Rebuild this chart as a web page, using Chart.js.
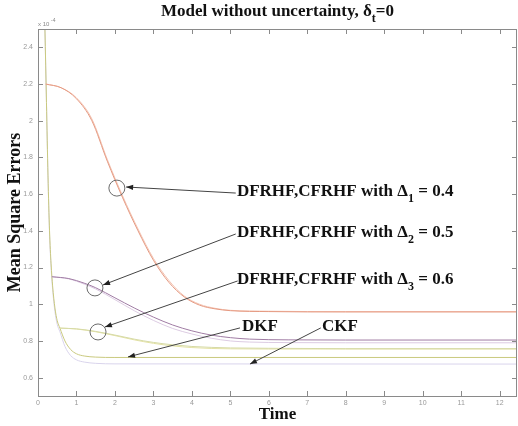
<!DOCTYPE html>
<html><head><meta charset="utf-8">
<script src="https://cdn.jsdelivr.net/npm/chart.js@4/dist/chart.umd.min.js"></script>
<style>html,body{margin:0;padding:0;background:#fff;}</style>
</head><body>
<canvas id="c" width="518" height="426"></canvas>
<script>
// ---- data (MSE values in units of 1e-4) ----
const xTicks = [0,1,2,3,4,5,6,7,8,9,10,11,12];
const yTicks = [0.6,0.8,1.0,1.2,1.4,1.6,1.8,2.0,2.2,2.4];

const tDelta1 = [0.2,0.6,1.0,1.4,1.8,2.2,2.6,3.0,3.4,3.8,4.2,4.6,5.0,6.0,8.0,12.45];
const dfrhfDelta1 = [2.2,2.18,2.12,2.0,1.78,1.58,1.40,1.24,1.12,1.04,0.995,0.975,0.965,0.96,0.958,0.958];
const cfrhfDelta1 = [2.2,2.18,2.125,2.01,1.79,1.59,1.41,1.25,1.13,1.045,1.0,0.978,0.967,0.962,0.96,0.96];

const tDelta2 = [0.36,0.8,1.2,1.5,2.0,2.5,3.0,3.5,4.0,4.5,5.0,5.5,6.5,8.0,12.45];
const dfrhfDelta2 = [1.15,1.14,1.115,1.09,1.035,0.98,0.93,0.887,0.855,0.832,0.818,0.81,0.806,0.805,0.805];
const cfrhfDelta2 = [1.15,1.138,1.11,1.083,1.025,0.965,0.912,0.868,0.838,0.815,0.8,0.794,0.791,0.79,0.79];

const tDelta3 = [0.57,1.0,1.5,2.0,2.5,3.0,3.5,4.0,4.5,5.0,6.0,8.0,12.45];
const dfrhfDelta3 = [0.87,0.866,0.852,0.832,0.81,0.792,0.779,0.77,0.765,0.762,0.76,0.758,0.758];
const cfrhfDelta3 = [0.87,0.865,0.85,0.829,0.806,0.787,0.773,0.764,0.759,0.757,0.756,0.756,0.756];

const tKF = [0.14,0.18,0.22,0.26,0.3,0.34,0.38,0.44,0.5,0.57,0.7,0.85,1.0,1.2,1.5,2.0,12.45];
const dkf = [2.85,2.5,2.1,1.7,1.4,1.22,1.1,0.98,0.91,0.87,0.8,0.753,0.73,0.718,0.712,0.71,0.71];
const ckf = [2.85,2.5,2.1,1.69,1.38,1.2,1.08,0.96,0.89,0.85,0.77,0.72,0.697,0.685,0.678,0.675,0.674];

// annotations (data coordinates)
const circleCenters = [[2.05,1.633],[1.48,1.089],[1.56,0.849]];
const arrowTails = [[5.14,1.606],[5.14,1.383],[5.19,1.127],[5.25,0.871],[7.35,0.871]];
const arrowTips  = [[2.29,1.639],[1.69,1.105],[1.74,0.876],[2.34,0.713],[5.51,0.674]];
const labelAnchors = [[5.17,1.612],[5.17,1.388],[5.17,1.132],[5.30,0.876],[7.38,0.876]];
const labelParts = [
  [["DFRHF,CFRHF with \u0394",0],["1",1],[" = 0.4",0]],
  [["DFRHF,CFRHF with \u0394",0],["2",1],[" = 0.5",0]],
  [["DFRHF,CFRHF with \u0394",0],["3",1],[" = 0.6",0]],
  [["DKF",0]],
  [["CKF",0]]
];
const titleParts = [["Model without uncertainty, \u03b4",0],["t",1],["=0",0]];

function pts(t, v){ return t.map((x,i)=>({x:x, y:v[i]})); }
function ds(label, t, v, color){
  return {label, data: pts(t,v), borderColor: color, borderWidth: 1, pointRadius: 0,
          fill:false, cubicInterpolationMode:'monotone', tension:0.4};
}

const serif = "'Liberation Serif','Times New Roman',serif";

function drawParts(ctx, parts, x, y, size, align){
  const subSize = Math.round(size*0.72);
  let w = 0;
  parts.forEach(p=>{ ctx.font = 'bold ' + (p[1]?subSize:size) + 'px ' + serif; w += ctx.measureText(p[0]).width; });
  let cx = align==='center' ? x - w/2 : x;
  ctx.textBaseline = 'middle';
  ctx.textAlign = 'left';
  parts.forEach(p=>{
    ctx.font = 'bold ' + (p[1]?subSize:size) + 'px ' + serif;
    ctx.fillText(p[0], cx, p[1] ? y + size*0.38 : y);
    cx += ctx.measureText(p[0]).width;
  });
}

const decor = {
  id:'decor',
  afterDatasetsDraw(chart){
    const ctx = chart.ctx, a = chart.chartArea, xs = chart.scales.x, ys = chart.scales.y;
    ctx.save();
    // box
    ctx.strokeStyle = '#8a8a8a'; ctx.lineWidth = 1;
    ctx.strokeRect(Math.round(a.left)+0.5, Math.round(a.top)+0.5, Math.round(a.right-a.left)-1, Math.round(a.bottom-a.top));
    // inward ticks
    ctx.beginPath();
    xTicks.forEach(v=>{ const px = Math.round(xs.getPixelForValue(v))+0.5;
      ctx.moveTo(px, a.bottom); ctx.lineTo(px, a.bottom-5);
      ctx.moveTo(px, a.top); ctx.lineTo(px, a.top+5); });
    yTicks.forEach(v=>{ const py = Math.round(ys.getPixelForValue(v))+0.5;
      ctx.moveTo(a.left, py); ctx.lineTo(a.left+5, py);
      ctx.moveTo(a.right, py); ctx.lineTo(a.right-5, py); });
    ctx.stroke();
    // exponent
    ctx.fillStyle = '#888';
    ctx.font = '6px Arial'; ctx.textBaseline = 'middle'; ctx.textAlign='left';
    ctx.fillText('x 10', a.left, a.top-5);
    ctx.font = '5px Arial';
    ctx.fillText('-4', a.left+13, a.top-8);
    // title
    ctx.fillStyle = '#111';
    drawParts(ctx, titleParts, (a.left+a.right)/2, 12, 17, 'center');
    // circles
    ctx.strokeStyle = '#6a6a6a'; ctx.lineWidth = 1;
    circleCenters.forEach(c=>{
      ctx.beginPath();
      ctx.arc(xs.getPixelForValue(c[0]), ys.getPixelForValue(c[1]), 8, 0, Math.PI*2);
      ctx.stroke();
    });
    // arrows
    ctx.strokeStyle = '#444'; ctx.fillStyle = '#222';
    arrowTails.forEach((t,i)=>{
      const x1 = xs.getPixelForValue(t[0]), y1 = ys.getPixelForValue(t[1]);
      const x2 = xs.getPixelForValue(arrowTips[i][0]), y2 = ys.getPixelForValue(arrowTips[i][1]);
      ctx.beginPath(); ctx.moveTo(x1,y1); ctx.lineTo(x2,y2); ctx.stroke();
      const ang = Math.atan2(y2-y1, x2-x1), L = 7, W = 2.6;
      const bx = x2 - L*Math.cos(ang), by = y2 - L*Math.sin(ang);
      ctx.beginPath();
      ctx.moveTo(x2,y2);
      ctx.lineTo(bx + W*Math.sin(ang), by - W*Math.cos(ang));
      ctx.lineTo(bx - W*Math.sin(ang), by + W*Math.cos(ang));
      ctx.closePath(); ctx.fill();
    });
    // labels
    ctx.fillStyle = '#111';
    labelAnchors.forEach((p,i)=>{
      drawParts(ctx, labelParts[i], xs.getPixelForValue(p[0]), ys.getPixelForValue(p[1]), 17, 'left');
    });
    ctx.restore();
  }
};

new Chart(document.getElementById('c'), {
  type:'line',
  data:{datasets:[
    ds('DFRHF Δ1', tDelta1, dfrhfDelta1, '#e59a82'),
    ds('CFRHF Δ1', tDelta1, cfrhfDelta1, '#f3c3b2'),
    ds('DFRHF Δ2', tDelta2, dfrhfDelta2, '#a07ca4'),
    ds('CFRHF Δ2', tDelta2, cfrhfDelta2, '#dccbe2'),
    ds('DFRHF Δ3', tDelta3, dfrhfDelta3, '#d6daa6'),
    ds('CFRHF Δ3', tDelta3, cfrhfDelta3, '#e4e2a4'),
    ds('DKF', tKF, dkf, '#c9c97e'),
    ds('CKF', tKF, ckf, '#d9d4ec')
  ]},
  options:{
    responsive:false, animation:false, devicePixelRatio:1,
    layout:{padding:{top:29, right:1, left:0, bottom:0}},
    plugins:{legend:{display:false}, tooltip:{enabled:false}, title:{display:false}},
    scales:{
      x:{type:'linear', min:0, max:12.45,
        afterBuildTicks(s){ s.ticks = xTicks.map(v=>({value:v})); },
        afterFit(s){ s.height = 30; },
        ticks:{font:{size:7,family:'Arial'}, color:'#999', padding:3, maxRotation:0, autoSkip:false,
          callback:v=>String(v)},
        grid:{display:false, drawTicks:false}, border:{display:false},
        title:{display:true, text:'Time', color:'#111', font:{family:serif, size:17, weight:'bold'}, padding:{top:0,bottom:1}}
      },
      y:{type:'linear', min:0.5, max:2.5,
        afterBuildTicks(s){ s.ticks = yTicks.map(v=>({value:v})); },
        afterFit(s){ s.width = 38; },
        ticks:{font:{size:7,family:'Arial'}, color:'#999', padding:5, autoSkip:false,
          callback:v=>String(+v.toFixed(1))},
        grid:{display:false, drawTicks:false}, border:{display:false},
        title:{display:true, text:'Mean Square Errors', color:'#111', font:{family:serif, size:18, weight:'bold'}, padding:{top:5,bottom:0}}
      }
    }
  },
  plugins:[decor]
});
</script>
</body></html>
